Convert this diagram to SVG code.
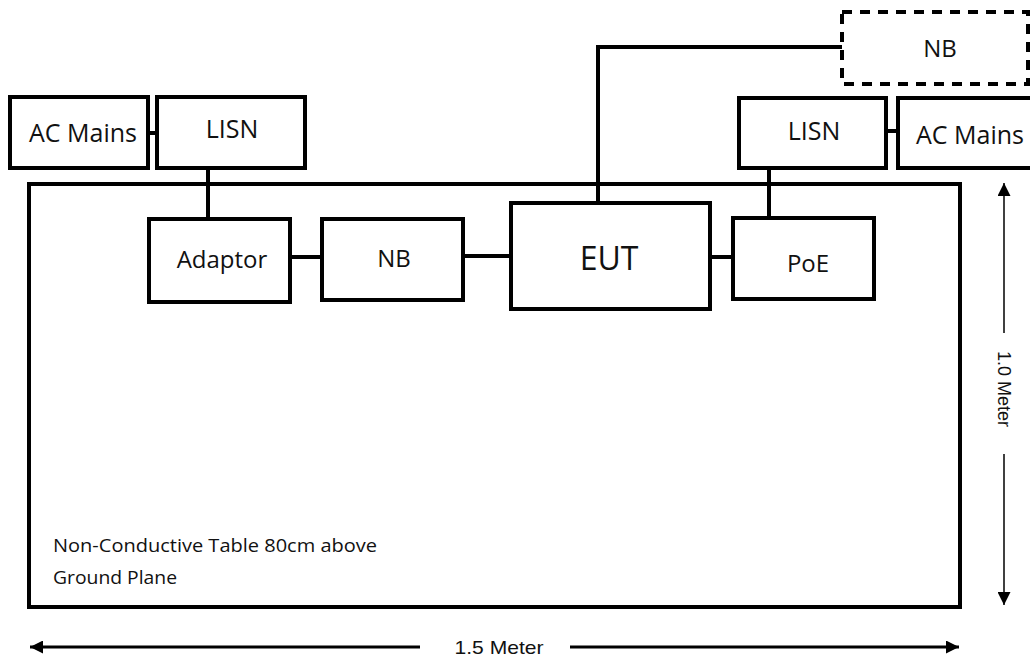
<svg xmlns="http://www.w3.org/2000/svg" width="1030" height="662" viewBox="0 0 1030 662">
<style>
.box{fill:#fff;stroke:#000;stroke-width:4}
.dash{fill:#fff;stroke:#000;stroke-width:4;stroke-dasharray:10 8}
.wire{fill:none;stroke:#000;stroke-width:4}
.lbl{font-family:"Open Sans","Noto Sans",sans-serif;fill:#111;text-anchor:middle}
.note{font-family:"Open Sans","Noto Sans",sans-serif;fill:#111;font-size:18px}
.dim{font-family:"Liberation Sans",Arial,sans-serif;fill:#111;text-anchor:middle}
</style>
<defs>
<marker id="ah" viewBox="0 0 10 10" refX="10" refY="5" markerWidth="14" markerHeight="13" markerUnits="userSpaceOnUse" orient="auto">
<path d="M0,0 L10,5 L0,10 z" fill="#000"/>
</marker>
</defs>
<rect width="1030" height="662" fill="#fff"/>
<g id="table">
<rect x="29" y="184" width="931" height="423" class="box"/>
<text class="note" x="53" y="552" textLength="324" lengthAdjust="spacingAndGlyphs">Non-Conductive Table 80cm above</text>
<text class="note" x="53" y="584" textLength="124" lengthAdjust="spacingAndGlyphs">Ground Plane</text>
</g>
<g id="connectors">
<line x1="148" y1="133" x2="157" y2="133" class="wire"/>
<line x1="208" y1="168" x2="208" y2="219" class="wire"/>
<line x1="290" y1="257" x2="322" y2="257" class="wire"/>
<line x1="463" y1="256" x2="511" y2="256" class="wire"/>
<line x1="710" y1="257" x2="733" y2="257" class="wire"/>
<line x1="769" y1="167" x2="769" y2="216" class="wire"/>
<line x1="886" y1="131" x2="898" y2="131" class="wire"/>
<polyline points="598,203 598,47 842,47" class="wire"/>
</g>
<g id="ac-mains-left">
<rect x="10" y="97" width="138" height="71" class="box"/>
<text class="lbl" x="83" y="142" font-size="25">AC Mains</text>
</g>
<g id="lisn-left">
<rect x="157" y="97" width="148" height="71" class="box"/>
<text class="lbl" x="232" y="138" font-size="25">LISN</text>
</g>
<g id="adaptor">
<rect x="149" y="219" width="141" height="83" class="box"/>
<text class="lbl" x="222" y="268" font-size="24">Adaptor</text>
</g>
<g id="nb-table">
<rect x="322" y="219" width="141" height="81" class="box"/>
<text class="lbl" x="394" y="267" font-size="24">NB</text>
</g>
<g id="eut">
<rect x="511" y="203" width="199" height="106" class="box"/>
<text class="lbl" x="609" y="270" font-size="32">EUT</text>
</g>
<g id="poe">
<rect x="733" y="218" width="141" height="81" class="box"/>
<text class="lbl" x="808" y="272" font-size="24">PoE</text>
</g>
<g id="lisn-right">
<rect x="739" y="98" width="147" height="70" class="box"/>
<text class="lbl" x="814" y="140" font-size="25">LISN</text>
</g>
<g id="ac-mains-right">
<rect x="898" y="98" width="140" height="70" class="box"/>
<text class="lbl" x="970" y="144" font-size="25">AC Mains</text>
</g>
<g id="nb-external">
<rect x="842" y="12" width="186" height="72" class="dash"/>
<text class="lbl" x="940" y="57" font-size="24">NB</text>
</g>
<g id="dimensions">
<line x1="420" y1="647" x2="30" y2="647" stroke="#000" stroke-width="3" marker-end="url(#ah)"/>
<line x1="570" y1="647" x2="959" y2="647" stroke="#000" stroke-width="3" marker-end="url(#ah)"/>
<text class="dim" x="499" y="654" font-size="19" textLength="89" lengthAdjust="spacingAndGlyphs">1.5 Meter</text>
<line x1="1004" y1="333" x2="1004" y2="183" stroke="#000" stroke-width="1.5" marker-end="url(#ah)"/>
<line x1="1004" y1="454" x2="1004" y2="605" stroke="#000" stroke-width="1.5" marker-end="url(#ah)"/>
<text class="dim" x="1004" y="389" font-size="18" dominant-baseline="central" transform="rotate(90 1004 389)">1.0 Meter</text>
</g>
</svg>
